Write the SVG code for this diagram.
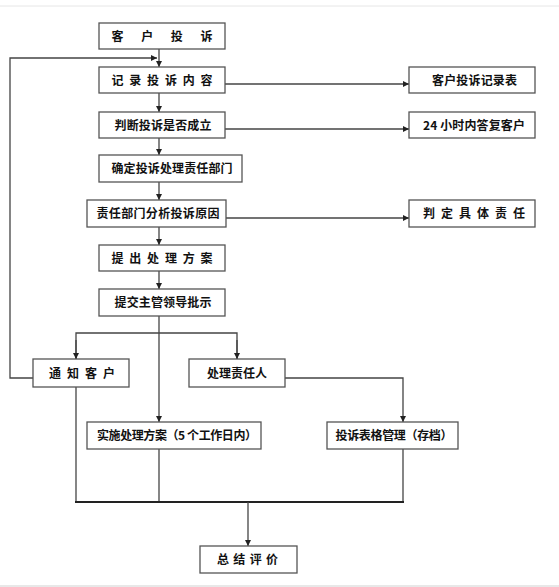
<svg xmlns="http://www.w3.org/2000/svg" width="559" height="587" viewBox="0 0 559 587">
<defs>
<marker id="ah" viewBox="0 0 10 10" refX="10" refY="5" markerWidth="6" markerHeight="6" markerUnits="userSpaceOnUse" orient="auto">
<path d="M0,0 L10,5 L0,10 z" fill="#222"/>
</marker>
</defs>
<style>
.box{fill:#fff;stroke:#555;stroke-width:1.3}
.t{font-family:"Noto Sans CJK SC","Noto Sans",sans-serif;font-weight:bold;font-size:12px;fill:#111;text-anchor:middle}
.c{fill:none;stroke:#444;stroke-width:1.3}
.a{fill:none;stroke:#444;stroke-width:1.3;marker-end:url(#ah)}
</style>
<rect x="0" y="0" width="559" height="587" fill="#fff"/>
<line x1="0" y1="6" x2="559" y2="6" stroke="#e6e6e6" stroke-width="1"/>
<rect x="0" y="585" width="559" height="2" fill="#e8e8e8"/>
<g id="connectors">
<line class="a" x1="159" y1="49" x2="159" y2="67"/>
<polyline class="a" points="33,378 10,378 10,58 157,58"/>
<line class="a" x1="159" y1="93" x2="159" y2="112"/>
<line class="a" x1="159" y1="138" x2="159" y2="155"/>
<line class="a" x1="159" y1="182" x2="159" y2="200"/>
<line class="a" x1="159" y1="227" x2="159" y2="245"/>
<line class="a" x1="159" y1="271" x2="159" y2="289"/>
<line class="a" x1="159" y1="316" x2="159" y2="422"/>
<line class="a" x1="225" y1="84" x2="409" y2="84"/>
<line class="a" x1="225" y1="129" x2="409" y2="129"/>
<line class="a" x1="226" y1="218" x2="409" y2="218"/>
<polyline class="c" points="76,359 76,333 237,333 237,359"/>
<line class="a" x1="76" y1="340" x2="76" y2="359"/>
<line class="a" x1="237" y1="340" x2="237" y2="359"/>
<polyline class="a" points="285,378 403,378 403,422"/>
<line class="c" x1="76" y1="387" x2="76" y2="502"/>
<line class="c" x1="159" y1="449" x2="159" y2="502"/>
<line class="c" x1="403" y1="449" x2="403" y2="502"/>
<line x1="75" y1="502" x2="404" y2="502" stroke="#222" stroke-width="1.8"/>
<line class="a" x1="248" y1="502" x2="248" y2="546"/>
</g>
<g id="n1"><rect class="box" x="99" y="23" width="126" height="26"/><text class="t" x="162" y="40.5" textLength="101" lengthAdjust="spacing">客 户 投 诉</text></g>
<g id="n2"><rect class="box" x="99" y="67" width="126" height="26"/><text class="t" x="162" y="84.5" textLength="101" lengthAdjust="spacing">记 录 投 诉 内 容</text></g>
<g id="n3"><rect class="box" x="99" y="112" width="126" height="26"/><text class="t" x="163" y="129.5" textLength="97" lengthAdjust="spacing">判断投诉是否成立</text></g>
<g id="n4"><rect class="box" x="99" y="155" width="143" height="27"/><text class="t" x="172" y="173" textLength="121" lengthAdjust="spacing">确定投诉处理责任部门</text></g>
<g id="n5"><rect class="box" x="87" y="200" width="139" height="27"/><text class="t" x="158" y="218" textLength="123" lengthAdjust="spacing">责任部门分析投诉原因</text></g>
<g id="n6"><rect class="box" x="99" y="245" width="126" height="26"/><text class="t" x="162" y="262.5" textLength="101" lengthAdjust="spacing">提 出 处 理 方 案</text></g>
<g id="n7"><rect class="box" x="99" y="289" width="126" height="27"/><text class="t" x="163" y="307" textLength="97" lengthAdjust="spacing">提交主管领导批示</text></g>
<g id="n8"><rect class="box" x="33" y="359" width="96" height="28"/><text class="t" x="82" y="377.5" textLength="66" lengthAdjust="spacing">通 知 客 户</text></g>
<g id="n9"><rect class="box" x="189" y="359" width="96" height="28"/><text class="t" x="237" y="377.5" textLength="60" lengthAdjust="spacing">处理责任人</text></g>
<g id="n10"><rect class="box" x="87" y="422" width="174" height="27"/><text class="t" x="177" y="440" textLength="160" lengthAdjust="spacing">实施处理方案（5 个工作日内）</text></g>
<g id="n11"><rect class="box" x="327" y="422" width="131" height="27"/><text class="t" x="394" y="440" textLength="117" lengthAdjust="spacing">投诉表格管理（存档）</text></g>
<g id="n12"><rect class="box" x="200" y="546" width="97" height="27"/><text class="t" x="247.5" y="564" textLength="61" lengthAdjust="spacing">总 结 评 价</text></g>
<g id="n13"><rect class="box" x="409" y="67" width="126" height="26"/><text class="t" x="474.5" y="84.5" textLength="85" lengthAdjust="spacing">客户投诉记录表</text></g>
<g id="n14"><rect class="box" x="409" y="112" width="126" height="26"/><text class="t" x="474" y="129.5" textLength="102" lengthAdjust="spacing">24 小时内答复客户</text></g>
<g id="n15"><rect class="box" x="409" y="200" width="126" height="27"/><text class="t" x="474" y="218" textLength="102" lengthAdjust="spacing">判 定 具 体 责 任</text></g>
</svg>
